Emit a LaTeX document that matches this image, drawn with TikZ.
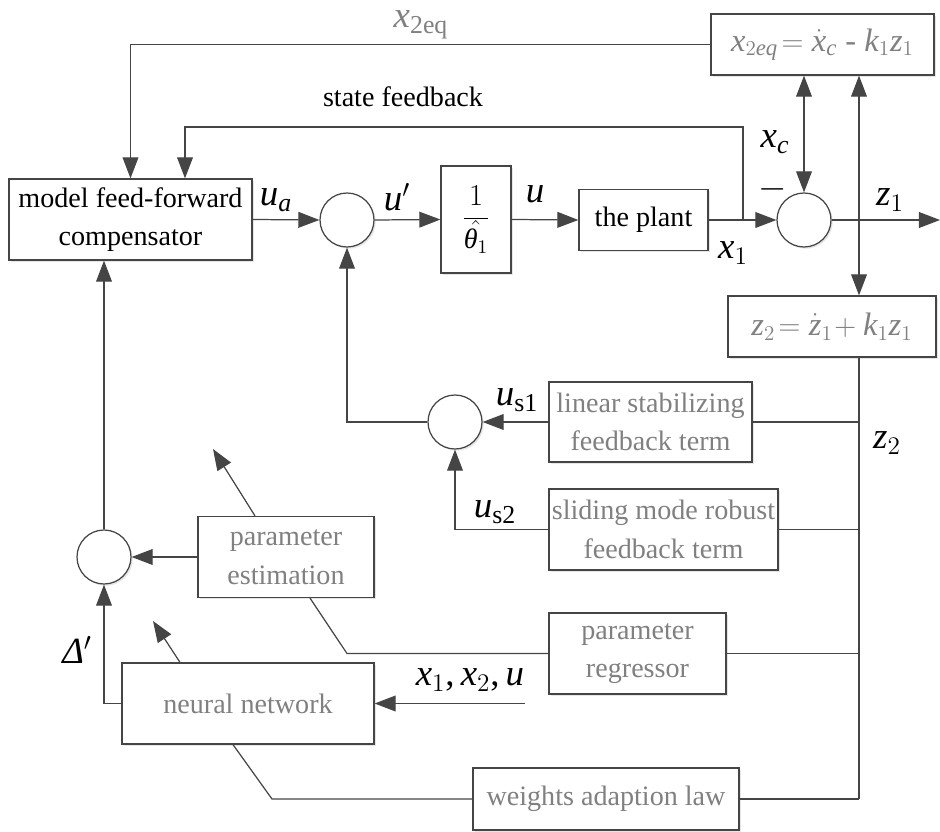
\documentclass[tikz,border=0pt]{standalone}
\usepackage{fontspec}
\setmainfont{Liberation Serif}
\DeclareSymbolFont{letters}{TU}{\rmdefault}{m}{it}
\AtBeginDocument{\mathcode`\,="602C}
\usetikzlibrary{arrows.meta,shadows}
\definecolor{boxgray}{HTML}{808080}
\definecolor{edgegray}{HTML}{454545}

\begin{document}
\begin{tikzpicture}[
    font=\fontsize{16}{22}\selectfont,
    blk/.style={draw=edgegray, line width=0.7pt, fill=white, inner sep=0pt,
      align=center, drop shadow={shadow xshift=1pt, shadow yshift=-1pt, opacity=0.2}},
    gblk/.style={blk, text=boxgray},
    sumc/.style={circle, draw=edgegray, line width=0.7pt, fill=white,
      minimum size=1.08cm, inner sep=0pt,
      drop shadow={shadow xshift=1pt, shadow yshift=-1pt, opacity=0.2}},
    wire/.style={draw=edgegray, line width=0.7pt},
    arr/.style={wire, -{Triangle[length=12pt,width=9pt]}},
    darr/.style={wire, {Triangle[length=12pt,width=9pt]}-{Triangle[length=12pt,width=9pt]}},
    lbl/.style={font=\fontsize{21}{24}\selectfont},
    eqn/.style={font=\fontsize{18.5}{22}\selectfont}
  ]
  \useasboundingbox (0,0) rectangle (18.8,16.62);

    \node[blk, minimum width=4.86cm, minimum height=1.62cm] (comp) at (2.61,12.23)
      {model feed-forward\\compensator};
    \node[sumc] (s1) at (6.94,12.22) {};
    \node[blk, minimum width=1.4cm, minimum height=2.14cm] (gain) at (9.52,12.23)
      {$\displaystyle\frac{1}{\skew{6}\hat{\hbox{\itshape θ}}_1}$};
    \node[blk, minimum width=2.58cm, minimum height=1.22cm] (plant) at (12.87,12.22)
      {the plant};
    \node[sumc] (s2) at (16.08,12.22) {};

    \node[gblk, eqn, minimum width=4.46cm, minimum height=1.22cm] (xeq) at (16.45,15.73)
      {$x_{2eq}\!=\dot{x}_c$ - $k_1 z_1$};
    \node[gblk, eqn, minimum width=4.16cm, minimum height=1.22cm] (zeq) at (16.64,10.09)
      {$z_2\!=\dot{z}_1\!+k_1 z_1$};

    \node[gblk, minimum width=4.06cm, minimum height=1.6cm] (lin) at (13.01,8.18)
      {linear stabilizing\\feedback term};
    \node[sumc] (s3) at (9.1,8.18) {};
    \node[gblk, minimum width=4.58cm, minimum height=1.62cm] (slide) at (13.27,6.03)
      {sliding mode robust\\feedback term};

    \node[sumc] (s4) at (2.08,5.48) {};
    \node[gblk, minimum width=3.52cm, minimum height=1.62cm] (pest) at (5.72,5.48)
      {parameter\\estimation};
    \node[gblk, minimum width=3.54cm, minimum height=1.62cm] (preg) at (12.75,3.55)
      {parameter\\regressor};
    \node[gblk, minimum width=5.04cm, minimum height=1.62cm] (nn) at (4.96,2.55)
      {neural network};
    \node[gblk, minimum width=5.32cm, minimum height=1.24cm] (wlaw) at (12.12,0.64)
      {weights adaption law};

    \coordinate (zout) at (18.8,12.22);
    \coordinate (sfb) at (14.86,12.22);
    \coordinate (bustop) at (17.18,9.48);
    \coordinate (busbot) at (wlaw.east -| bustop);
    \coordinate (pestout) at (4.26,7.64);
    \coordinate (pbend) at (preg.west -| 6.94,0);
    \coordinate (nnout) at (3.06,4.2);
    \coordinate (xin) at (10.5,2.55);
    \coordinate (nbend) at (5.44,0.64);

    \draw[arr] (comp.east) -- (s1.west);
    \draw[arr] (s1.east) -- (gain.west);
    \draw[arr] (gain.east) -- (plant.west);
    \draw[arr] (plant.east) -- (s2.west);
    \draw[arr] (s2.east) -- (zout);

    \draw[arr] (sfb) -- (14.86,14.08) -| ([xshift=1.09cm]comp.north);
    \draw[arr] (xeq.west) -| (comp.north);
    \draw[darr] (xeq.south -| s2.north) -- (s2.north);
    \draw[darr] (xeq.south -| bustop) -- (zeq.north -| bustop);

    \draw[wire] (bustop) -- (busbot);
    \draw[wire] (lin.east) -- (lin.east -| bustop);
    \draw[wire] (slide.east) -- (slide.east -| bustop);
    \draw[wire] (preg.east) -- (preg.east -| bustop);
    \draw[wire] (wlaw.east) -- (busbot);

    \draw[arr] (lin.west) -- (s3.east);
    \draw[arr] (slide.west) -| (s3.south);
    \draw[arr] (s3.west) -| (s1.south);

    \draw[arr] (pest.west) -- (s4.east);
    \draw[arr] (s4.north) -- (s4.north |- comp.south);
    \draw[arr] ([xshift=-0.62cm]pest.north) -- (pestout);
    \draw[wire] ([xshift=0.48cm]pest.south) -- (pbend) -- (preg.west);

    \draw[arr] (nn.west) -| (s4.south);
    \draw[arr] ([xshift=-1.36cm]nn.north) -- (nnout);
    \draw[arr] (xin) -- (nn.east);
    \draw[wire] ([xshift=-0.3cm]nn.south) -- (nbend) -- (wlaw.west);

    \node[lbl, text=boxgray] (lxeq) at (8.42,16.12) {$x_{\mathrm{2eq}}$};
    \node (lsfb) at (8.06,14.68) {state feedback};
    \node[lbl] (lua) at (5.52,12.62) {$u_a$};
    \node[lbl] (lup) at (7.94,12.68) {$u'$};
    \node[lbl] (lu) at (10.7,12.74) {$u$};
    \node[lbl] (lx1) at (14.66,11.56) {$x_1$};
    \node[lbl] (lxc) at (15.5,13.78) {$x_c$};
    \node[lbl] (lminus) at (15.46,12.84) {$-$};
    \node[lbl] (lz1) at (17.8,12.62) {$z_1$};
    \node[lbl] (lz2) at (17.74,7.76) {$z_2$};
    \node[lbl] (lus1) at (10.34,8.62) {$u_{\mathrm{s1}}$};
    \node[lbl] (lus2) at (9.9,6.38) {$u_{\mathrm{s2}}$};
    \node[lbl] (ldelta) at (1.54,3.62) {\textit{Δ}$'$};
    \node[lbl] (lxin) at (9.4,3.02) {$x_1, x_2, u$};

  \end{tikzpicture}
\end{document}
